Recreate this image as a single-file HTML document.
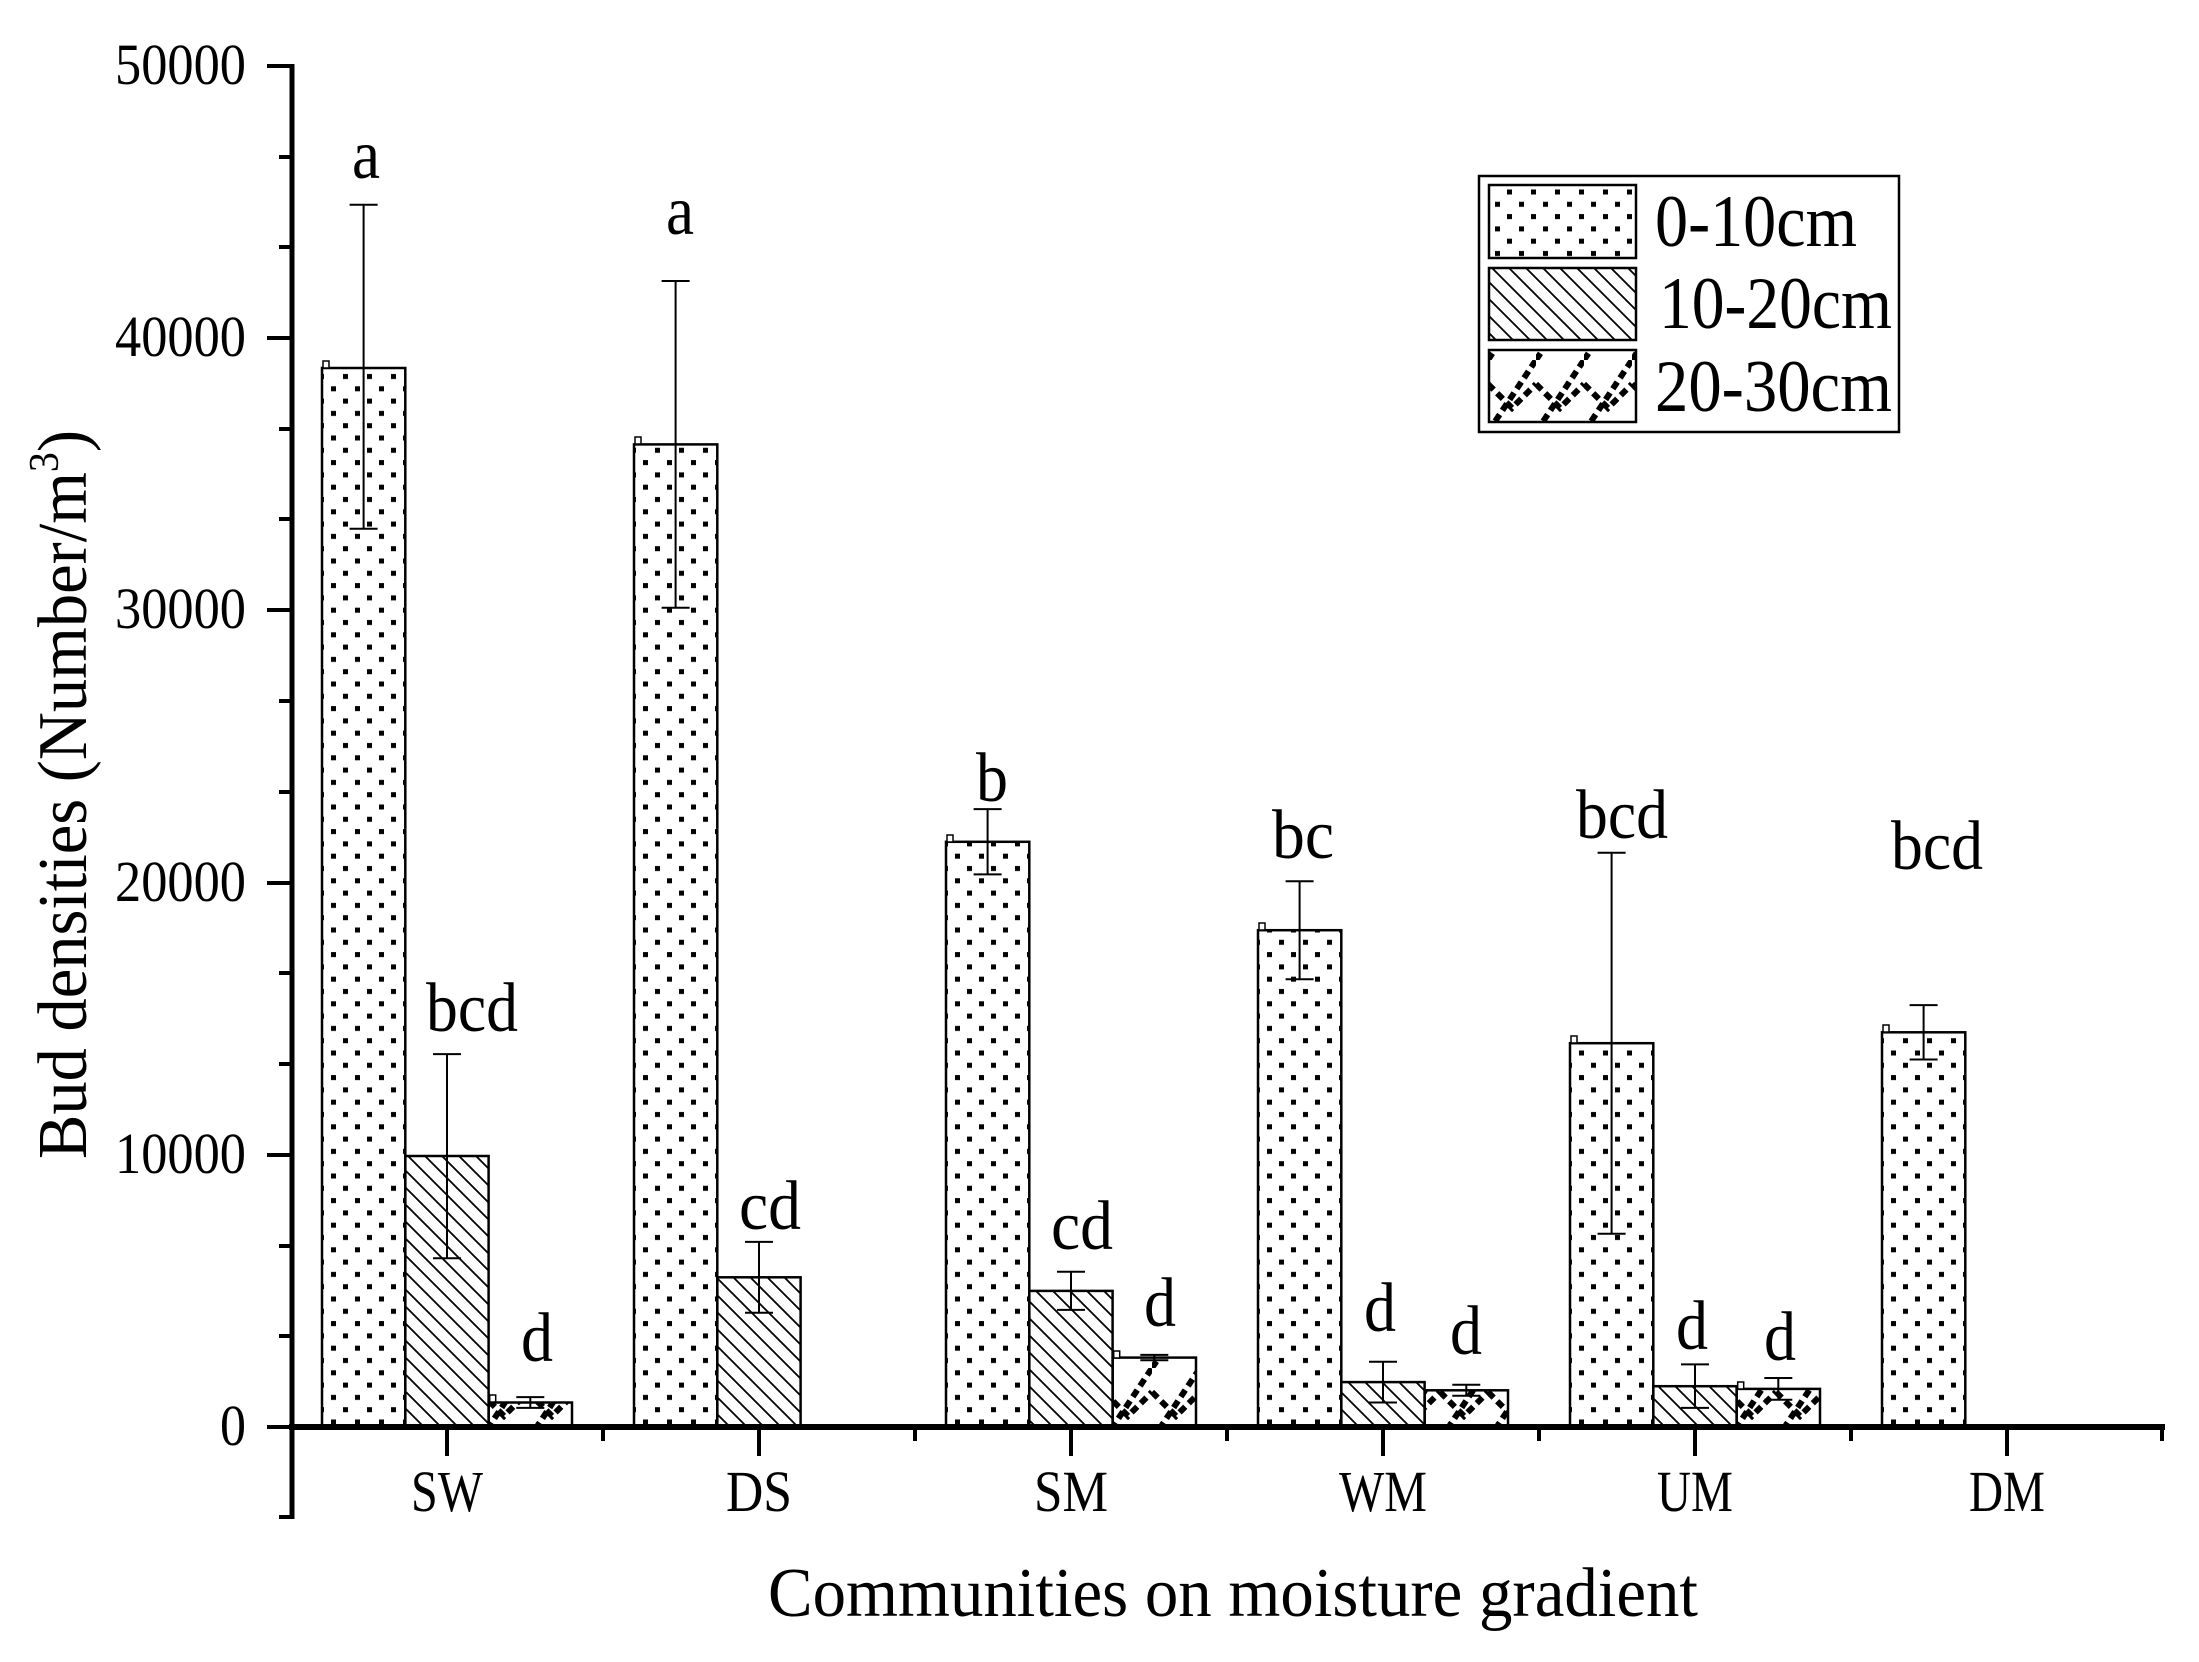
<!DOCTYPE html>
<html><head><meta charset="utf-8"><style>html,body{margin:0;padding:0;background:#fff}svg{display:block}</style></head>
<body>
<svg width="2199" height="1662" viewBox="0 0 2199 1662" xmlns="http://www.w3.org/2000/svg" font-family="Liberation Serif, serif">
<defs>
<pattern id="dots" patternUnits="userSpaceOnUse" width="24" height="24.6" x="0" y="0">
<rect x="7" y="5" width="5" height="5" fill="#000"/>
<rect x="19" y="17.3" width="5" height="5" fill="#000"/>
</pattern>
<pattern id="hatch" patternUnits="userSpaceOnUse" width="17" height="17">
<path d="M-4,-4 L21,21 M-4,13 L4,21 M13,-4 L21,4" stroke="#000" stroke-width="1.8"/>
</pattern>
<pattern id="zig" patternUnits="userSpaceOnUse" width="48" height="72">
<path d="M0,72 L48,0" stroke="#000" stroke-width="6" stroke-dasharray="8,5"/>
<path d="M0,24 L24,48 L48,24" stroke="#000" stroke-width="6" fill="none" stroke-dasharray="8,5"/>
</pattern>
</defs>

<line x1="292" y1="64" x2="292" y2="1519" stroke="#000" stroke-width="5"/>
<line x1="289" y1="1427" x2="2165" y2="1427" stroke="#000" stroke-width="6"/>
<g stroke="#000" stroke-width="4">
<line x1="267" y1="66" x2="292" y2="66"/><line x1="267" y1="338" x2="292" y2="338"/>
<line x1="267" y1="610" x2="292" y2="610"/><line x1="267" y1="883" x2="292" y2="883"/>
<line x1="267" y1="1155" x2="292" y2="1155"/><line x1="267" y1="1427" x2="292" y2="1427"/>
<line x1="279" y1="157" x2="292" y2="157"/><line x1="279" y1="247" x2="292" y2="247"/>
<line x1="279" y1="429" x2="292" y2="429"/><line x1="279" y1="519" x2="292" y2="519"/>
<line x1="279" y1="701" x2="292" y2="701"/><line x1="279" y1="792" x2="292" y2="792"/>
<line x1="279" y1="973" x2="292" y2="973"/><line x1="279" y1="1064" x2="292" y2="1064"/>
<line x1="279" y1="1246" x2="292" y2="1246"/><line x1="279" y1="1336" x2="292" y2="1336"/>
<line x1="279" y1="1517" x2="292" y2="1517"/>
<line x1="447" y1="1427" x2="447" y2="1456"/><line x1="759" y1="1427" x2="759" y2="1456"/>
<line x1="1071" y1="1427" x2="1071" y2="1456"/><line x1="1383" y1="1427" x2="1383" y2="1456"/>
<line x1="1695" y1="1427" x2="1695" y2="1456"/><line x1="2007" y1="1427" x2="2007" y2="1456"/>
<line x1="603" y1="1427" x2="603" y2="1441"/><line x1="915" y1="1427" x2="915" y2="1441"/>
<line x1="1227" y1="1427" x2="1227" y2="1441"/><line x1="1539" y1="1427" x2="1539" y2="1441"/>
<line x1="1851" y1="1427" x2="1851" y2="1441"/><line x1="2162" y1="1427" x2="2162" y2="1441"/>
</g>
<g font-size="58" text-anchor="end" lengthAdjust="spacingAndGlyphs">
<text x="246" y="84" textLength="131" lengthAdjust="spacingAndGlyphs">50000</text>
<text x="246" y="356" textLength="131" lengthAdjust="spacingAndGlyphs">40000</text>
<text x="246" y="628" textLength="131" lengthAdjust="spacingAndGlyphs">30000</text>
<text x="246" y="901" textLength="131" lengthAdjust="spacingAndGlyphs">20000</text>
<text x="246" y="1173" textLength="131" lengthAdjust="spacingAndGlyphs">10000</text>
<text x="246" y="1445" textLength="26" lengthAdjust="spacingAndGlyphs">0</text>
</g>
<g font-size="58" text-anchor="middle">
<text x="447" y="1511" textLength="72" lengthAdjust="spacingAndGlyphs">SW</text>
<text x="759" y="1511" textLength="66" lengthAdjust="spacingAndGlyphs">DS</text>
<text x="1071" y="1511" textLength="74" lengthAdjust="spacingAndGlyphs">SM</text>
<text x="1383" y="1511" textLength="88" lengthAdjust="spacingAndGlyphs">WM</text>
<text x="1695" y="1511" textLength="76" lengthAdjust="spacingAndGlyphs">UM</text>
<text x="2007" y="1511" textLength="76" lengthAdjust="spacingAndGlyphs">DM</text>
</g>
<text x="768" y="1616" font-size="70" textLength="930" lengthAdjust="spacingAndGlyphs">Communities on moisture gradient</text>
<text transform="translate(86,1159) rotate(-90)" font-size="70" textLength="729" lengthAdjust="spacingAndGlyphs">Bud densities (Number/m<tspan font-size="42" dy="-28">3</tspan><tspan dy="28">)</tspan></text>

<g stroke="#000" stroke-width="2.5">
<rect x="322" y="368" width="83.3" height="1059" fill="url(#dots)"/>
<rect x="405.3" y="1156" width="83.3" height="271" fill="url(#hatch)"/>
<rect x="488.7" y="1402.5" width="83.3" height="24.5" fill="url(#zig)"/>
<rect x="634" y="444.4" width="83.3" height="982.6" fill="url(#dots)"/>
<rect x="717.3" y="1277.3" width="83.3" height="149.7" fill="url(#hatch)"/>
<rect x="946" y="841.8" width="83.3" height="585.2" fill="url(#dots)"/>
<rect x="1029.3" y="1290.9" width="83.3" height="136.1" fill="url(#hatch)"/>
<rect x="1112.7" y="1357.6" width="83.3" height="69.4" fill="url(#zig)"/>
<rect x="1258" y="930.2" width="83.3" height="496.8" fill="url(#dots)"/>
<rect x="1341.3" y="1382.1" width="83.3" height="44.9" fill="url(#hatch)"/>
<rect x="1424.7" y="1390.3" width="83.3" height="36.7" fill="url(#zig)"/>
<rect x="1570" y="1043.2" width="83.3" height="383.8" fill="url(#dots)"/>
<rect x="1653.3" y="1386.2" width="83.3" height="40.8" fill="url(#hatch)"/>
<rect x="1736.7" y="1388.9" width="83.3" height="38.1" fill="url(#zig)"/>
<rect x="1882" y="1032.3" width="83.3" height="394.7" fill="url(#dots)"/>
</g>
<g fill="#fff" stroke="#000" stroke-width="1.5">
<rect x="323" y="361" width="6" height="7"/><rect x="635" y="437" width="6" height="7"/>
<rect x="947" y="835" width="6" height="7"/><rect x="1259" y="923" width="6" height="7"/>
<rect x="1571" y="1036" width="6" height="7"/><rect x="1883" y="1025" width="6" height="7"/>
<rect x="489.7" y="1395" width="6" height="7"/><rect x="1113.7" y="1351" width="6" height="7"/>
<rect x="1737.7" y="1382" width="6" height="7"/>
</g>

<g stroke="#000" stroke-width="2">
<path d="M363.6,204.8V528.7M349.6,204.8H377.6M349.6,528.7H377.6"/>
<path d="M447,1054.1V1258.2M433,1054.1H461M433,1258.2H461"/>
<path d="M530.3,1397.1V1407.9M516.3,1397.1H544.3M516.3,1407.9H544.3"/>
<path d="M675.6,281V607.7M661.6,281H689.6M661.6,607.7H689.6"/>
<path d="M759,1241.9V1312.7M745,1241.9H773M745,1312.7H773"/>
<path d="M987.6,809.1V874.4M973.6,809.1H1001.6M973.6,874.4H1001.6"/>
<path d="M1071,1271.8V1309.9M1057,1271.8H1085M1057,1309.9H1085"/>
<path d="M1154.3,1354.9V1360.3M1140.3,1354.9H1168.3M1140.3,1360.3H1168.3"/>
<path d="M1299.6,881.2V979.2M1285.6,881.2H1313.6M1285.6,979.2H1313.6"/>
<path d="M1383,1361.7V1402.5M1369,1361.7H1397M1369,1402.5H1397"/>
<path d="M1466.3,1384.8V1395.7M1452.3,1384.8H1480.3M1452.3,1395.7H1480.3"/>
<path d="M1611.6,852.7V1233.7M1597.6,852.7H1625.6M1597.6,1233.7H1625.6"/>
<path d="M1695,1364.4V1407.9M1681,1364.4H1709M1681,1407.9H1709"/>
<path d="M1778.3,1378V1399.8M1764.3,1378H1792.3M1764.3,1399.8H1792.3"/>
<path d="M1923.6,1005.1V1059.5M1909.6,1005.1H1937.6M1909.6,1059.5H1937.6"/>
</g>

<g font-size="70" text-anchor="middle">
<text x="366" y="178" textLength="28" lengthAdjust="spacingAndGlyphs">a</text>
<text x="680" y="234" textLength="28" lengthAdjust="spacingAndGlyphs">a</text>
<text x="472" y="1031" textLength="92" lengthAdjust="spacingAndGlyphs">bcd</text>
<text x="537" y="1361" textLength="32" lengthAdjust="spacingAndGlyphs">d</text>
<text x="770" y="1229" textLength="62" lengthAdjust="spacingAndGlyphs">cd</text>
<text x="992" y="801" textLength="32" lengthAdjust="spacingAndGlyphs">b</text>
<text x="1082" y="1249" textLength="62" lengthAdjust="spacingAndGlyphs">cd</text>
<text x="1160" y="1326" textLength="32" lengthAdjust="spacingAndGlyphs">d</text>
<text x="1303" y="858" textLength="62" lengthAdjust="spacingAndGlyphs">bc</text>
<text x="1380" y="1331" textLength="32" lengthAdjust="spacingAndGlyphs">d</text>
<text x="1466" y="1354" textLength="32" lengthAdjust="spacingAndGlyphs">d</text>
<text x="1622" y="838" textLength="92" lengthAdjust="spacingAndGlyphs">bcd</text>
<text x="1692" y="1349" textLength="32" lengthAdjust="spacingAndGlyphs">d</text>
<text x="1780" y="1360" textLength="32" lengthAdjust="spacingAndGlyphs">d</text>
<text x="1937" y="869" textLength="92" lengthAdjust="spacingAndGlyphs">bcd</text>
</g>

<rect x="1479" y="176" width="420" height="256" fill="#fff" stroke="#000" stroke-width="2.5"/>
<g stroke="#000" stroke-width="2.5">
<rect x="1489" y="185" width="147" height="73" fill="url(#dots)"/>
<rect x="1489" y="268" width="147" height="72" fill="url(#hatch)"/>
<rect x="1489" y="350" width="147" height="72" fill="url(#zig)"/>
</g>
<g font-size="74">
<text x="1655" y="246" textLength="202" lengthAdjust="spacingAndGlyphs">0-10cm</text>
<text x="1659" y="328" textLength="233" lengthAdjust="spacingAndGlyphs">10-20cm</text>
<text x="1655" y="411" textLength="237" lengthAdjust="spacingAndGlyphs">20-30cm</text>
</g>
</svg>
</body></html>
